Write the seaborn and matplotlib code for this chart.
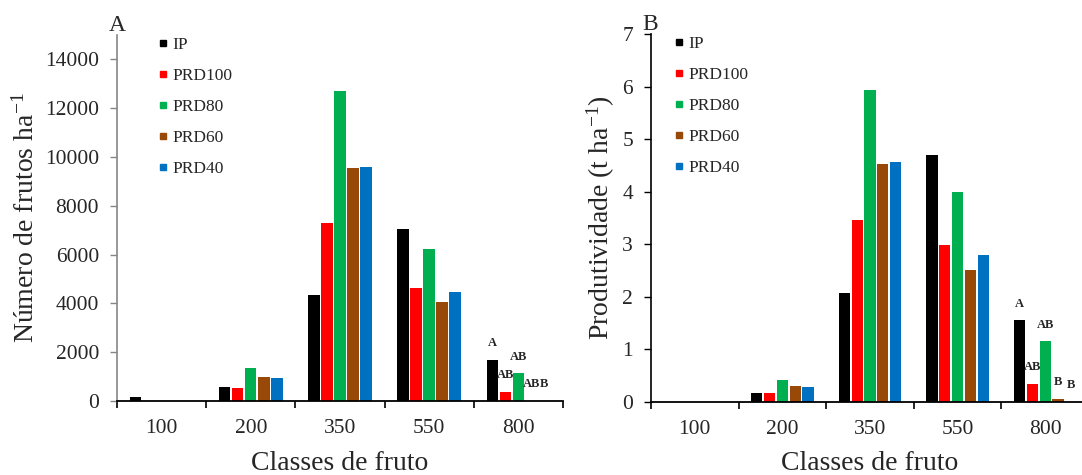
import numpy as np
import pandas as pd
import matplotlib
matplotlib.use('Agg')
import matplotlib.pyplot as plt
from matplotlib.lines import Line2D
import seaborn as sns

# Dados
classes = ['100', '200', '350', '550', '800']
tratamentos = ['IP', 'PRD100', 'PRD80', 'PRD60', 'PRD40']
cores = ['#000000', '#FF0000', '#00B050', '#984807', '#0070C0']

# A - numero de frutos por hectare
frutos_ip = [165, 585, 4360, 7030, 1700]
frutos_prd100 = [0, 545, 7290, 4650, 370]
frutos_prd80 = [0, 1365, 12700, 6230, 1130]
frutos_prd60 = [0, 980, 9560, 4060, 0]
frutos_prd40 = [0, 925, 9580, 4470, 0]

# B - produtividade (t/ha)
prod_ip = [0, 0.17, 2.07, 4.70, 1.55]
prod_prd100 = [0, 0.165, 3.46, 2.99, 0.34]
prod_prd80 = [0, 0.42, 5.93, 3.99, 1.15]
prod_prd60 = [0, 0.30, 4.52, 2.51, 0.05]
prod_prd40 = [0, 0.285, 4.56, 2.79, 0]

# letras de significancia na classe 800
letras_a = ['A', 'AB', 'AB', 'AB', 'B']
letras_b = ['A', 'AB', 'AB', 'B', 'B']


def long_df(series):
    rows = []
    for trat, vals in zip(tratamentos, series):
        for c, v in zip(classes, vals):
            rows.append({'Classe': c, 'Tratamento': trat, 'Valor': v})
    return pd.DataFrame(rows)


df_a = long_df([frutos_ip, frutos_prd100, frutos_prd80, frutos_prd60, frutos_prd40])
df_b = long_df([prod_ip, prod_prd100, prod_prd80, prod_prd60, prod_prd40])

sns.set_style('ticks')
plt.rcParams['font.family'] = ['Liberation Serif', 'DejaVu Serif']
plt.rcParams['mathtext.fontset'] = 'stix'

fig = plt.figure(figsize=(10.82, 4.75), dpi=100)
ax_a = fig.add_axes([0.1081, 0.1558, 0.4122, 0.7705])
ax_b = fig.add_axes([0.6017, 0.1543, 0.4048, 0.7741])


def draw_panel(ax, df, letras, ylim, yticks, ylabel, spine_color, leg_x):
    sns.barplot(data=df, x='Classe', y='Valor', hue='Tratamento',
                order=classes, hue_order=tratamentos, palette=cores,
                saturation=1, width=0.73, gap=0.12, errorbar=None,
                legend=False, linewidth=0, ax=ax)
    ax.set_ylim(*ylim)
    ax.set_xlim(-0.5, len(classes) - 0.5)
    ax.set_yticks(yticks)
    ax.tick_params(axis='y', labelsize=15.5, length=5, width=1,
                   color=spine_color, pad=8)
    # marcas nos limites das classes, rotulos no centro
    ax.set_xticks(np.arange(len(classes) + 1) - 0.5)
    ax.set_xticklabels([])
    ax.set_xticks(np.arange(len(classes)), minor=True)
    ax.set_xticklabels(classes, minor=True)
    ax.tick_params(axis='x', which='major', length=5, width=1.2, color='black')
    ax.tick_params(axis='x', which='minor', length=0, labelsize=15.5, pad=13)
    for s in ['top', 'right']:
        ax.spines[s].set_visible(False)
    ax.spines['left'].set_color(spine_color)
    ax.spines['left'].set_linewidth(1.2)
    ax.spines['bottom'].set_color('black')
    ax.spines['bottom'].set_linewidth(1.3)
    ax.set_xlabel('Classes de fruto', fontsize=20, labelpad=9)
    ax.set_ylabel(ylabel, fontsize=20, labelpad=4)

    # letras acima das barras da ultima classe
    for cont, letra in zip(ax.containers, letras):
        bar = min(cont.patches, key=lambda p: abs(p.get_x() + p.get_width() / 2 - (len(classes) - 1)))
        ax.annotate(letra, (bar.get_x() + bar.get_width() / 2, bar.get_height()),
                    xytext=(0, 12), textcoords='offset points',
                    ha='center', va='center', fontsize=9, fontweight='bold')

    handles = [Line2D([], [], marker='s', linestyle='none', markersize=5,
                      markerfacecolor=c, markeredgecolor=c) for c in cores]
    ax.legend(handles, tratamentos, loc='upper left', bbox_to_anchor=(leg_x, 0.995),
              frameon=False, fontsize=12.5, handlelength=0.6, handletextpad=0.25,
              labelspacing=0.86, borderpad=0, borderaxespad=0)


draw_panel(ax_a, df_a, letras_a, (0, 15000), range(0, 14001, 2000),
           'Número de frutos ha$^{\\mathregular{-1}}$', '#868686', 0.0913)
draw_panel(ax_b, df_b, letras_b, (0, 7), range(0, 8),
           'Produtividade (t ha$^{\\mathregular{-1}}$)', 'black', 0.0514)

fig.text(117 / 1082, 1 - 31 / 475, 'A', fontsize=17, ha='center', va='baseline')
fig.text(650 / 1082, 1 - 30 / 475, 'B', fontsize=17, ha='center', va='baseline')

fig.savefig('out.png', dpi=100)
